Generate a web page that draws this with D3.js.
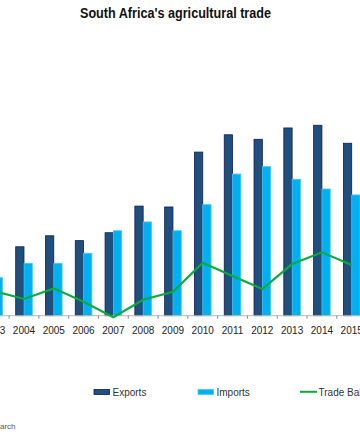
<!DOCTYPE html>
<html>
<head>
<meta charset="utf-8">
<script src="https://cdn.jsdelivr.net/npm/d3@7"></script>
<style>
  body { margin: 0; background: #fff; }
  svg { display: block; font-family: "Liberation Sans", Arial, sans-serif; }
</style>
</head>
<body>
<script>
"use strict";

// values (R billion, approx)
const years = ["2003", "2004", "2005", "2006", "2007", "2008", "2009",
               "2010", "2011", "2012", "2013", "2014", "2015"];
const exportsVals = [34.7, 38.3, 44.4, 41.7, 46.1, 60.9, 60.4, 90.9, 100.5, 98.0, 104.3, 105.8, 95.8];
const importsVals = [21.1, 29.1, 29.1, 34.7, 47.2, 52.1, 47.2, 61.7, 78.7, 82.8, 75.8, 70.4, 67.1];
const balanceVals = [13.6, 9.3, 15.2, 7.8, -0.9, 8.9, 13.3, 29.4, 22.1, 14.8, 28.7, 35.2, 28.2];
const seriesNames = ["Exports", "Imports", "Trade Balance"];

let width = 360, height = 441;

let svg = d3.select("body").append("svg")
    .attr("width", width)
    .attr("height", height);

svg.append("rect").attr("width", width).attr("height", height).attr("fill", "#fff");

// chart is cropped on both sides, so the range runs past the edges
let x = d3.scaleBand()
    .domain(years)
    .range([-20.7, 366.6]);

let xInner = d3.scaleBand()
    .domain(["Exports", "Imports"])
    .range([0, x.bandwidth()])
    .paddingOuter(0.795);

let y = d3.scaleLinear()
    .domain([0, 120])
    .range([315.7, 99.7]);

// title
svg.append("text")
    .attr("x", 175.5)
    .attr("y", 17.5)
    .attr("text-anchor", "middle")
    .attr("font-size", "14px")
    .attr("font-weight", "bold")
    .attr("fill", "#111")
    .attr("textLength", 191)
    .attr("lengthAdjust", "spacingAndGlyphs")
    .text("South Africa's agricultural trade");

// bars
let rows = years.map((yr, i) => ({year: yr, Exports: exportsVals[i], Imports: importsVals[i]}));

let groups = svg.append("g").selectAll("g")
    .data(rows)
    .enter().append("g")
    .attr("transform", d => "translate(" + x(d.year) + ",0)");

groups.selectAll("rect")
    .data(d => ["Exports", "Imports"].map(k => ({key: k, value: d[k]})))
    .enter().append("rect")
    .attr("x", d => xInner(d.key))
    .attr("width", xInner.bandwidth())
    .attr("y", d => y(d.value))
    .attr("height", d => y(0) - y(d.value))
    .attr("fill", d => d.key === "Exports" ? "#204f7c" : "#00b0f0")
    .attr("stroke", d => d.key === "Exports" ? "#0c1c5e" : "#4cc4f3")
    .attr("stroke-width", 0.8);

// axis line + ticks at category boundaries
svg.append("line")
    .attr("x1", 0).attr("x2", width)
    .attr("y1", y(0)).attr("y2", y(0))
    .attr("stroke", "#b8b8b8")
    .attr("stroke-width", 1);

let bounds = years.map(d => x(d)).concat([x(years[years.length - 1]) + x.step()]);
svg.append("g").selectAll("line")
    .data(bounds)
    .enter().append("line")
    .attr("x1", d => d).attr("x2", d => d)
    .attr("y1", y(0)).attr("y2", y(0) + 3)
    .attr("stroke", "#888")
    .attr("stroke-width", 1);

svg.append("g").selectAll("text")
    .data(years)
    .enter().append("text")
    .attr("x", d => x(d) + x.bandwidth() / 2)
    .attr("y", 334)
    .attr("text-anchor", "middle")
    .attr("font-size", "10px")
    .attr("fill", "#222")
    .text(d => d);

// trade balance line
let line = d3.line()
    .x((d, i) => x(years[i]) + x.bandwidth() / 2)
    .y(d => y(d));

svg.append("path")
    .datum(balanceVals)
    .attr("d", line)
    .attr("fill", "none")
    .attr("stroke", "#0aaa3c")
    .attr("stroke-width", 2.2);

// legend
let legend = svg.append("g");
let legendX = [94, 198, 300];

seriesNames.forEach(function (name, i) {
    if (i < 2) {
        legend.append("rect")
            .attr("x", legendX[i]).attr("y", 389.5)
            .attr("width", 15.5).attr("height", 5)
            .attr("fill", i === 0 ? "#204f7c" : "#00b0f0")
            .attr("stroke", i === 0 ? "#0c1c5e" : "#4cc4f3")
            .attr("stroke-width", 0.8);
    } else {
        legend.append("line")
            .attr("x1", legendX[i]).attr("x2", legendX[i] + 17)
            .attr("y1", 391.8).attr("y2", 391.8)
            .attr("stroke", "#0aaa3c")
            .attr("stroke-width", 2);
    }
    legend.append("text")
        .attr("x", legendX[i] + 18.5)
        .attr("y", 395.5)
        .attr("font-size", "10px")
        .attr("fill", "#333")
        .text(name);
});

// source note, mostly cut off at the left edge
svg.append("text")
    .attr("x", 15.5)
    .attr("y", 428.5)
    .attr("text-anchor", "end")
    .attr("font-size", "8px")
    .attr("fill", "#555")
    .text("Source: Agbiz Research");
</script>
</body>
</html>
